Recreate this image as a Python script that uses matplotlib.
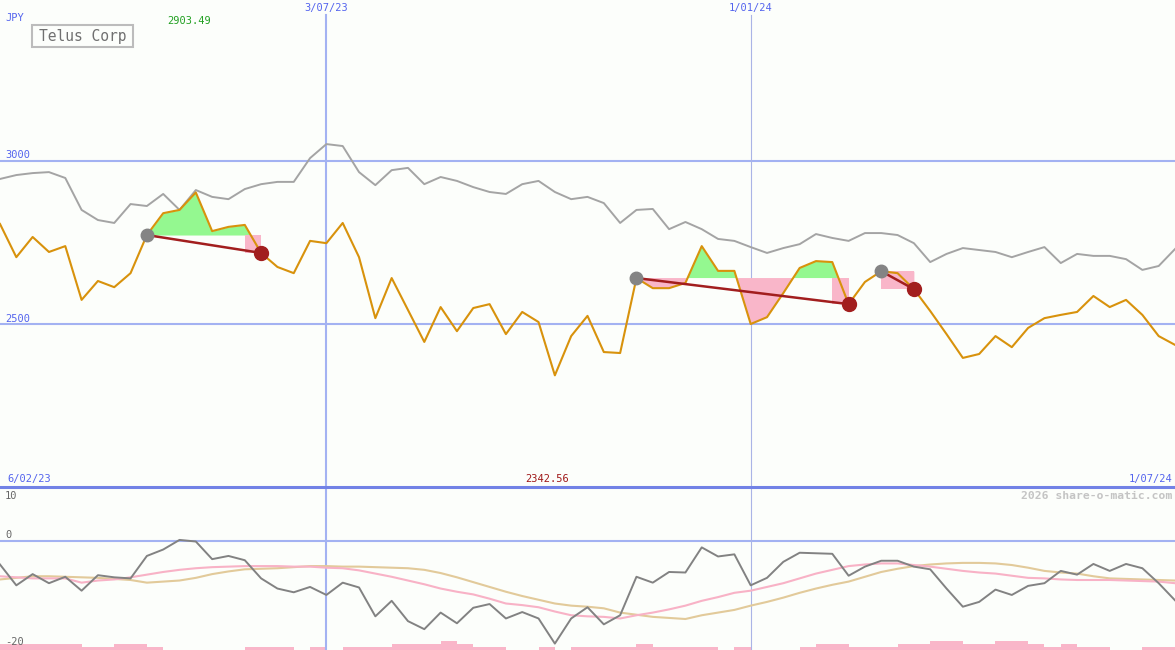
import matplotlib
matplotlib.use('Agg')
import matplotlib.pyplot as plt
from matplotlib.lines import Line2D
from matplotlib.patches import Rectangle
import numpy as np

# weekly closes, JPY
price = [2807, 2705, 2767, 2721, 2739, 2574, 2632, 2613, 2656, 2773,
         2840, 2850, 2903.49, 2785, 2798, 2804, 2718, 2675, 2656, 2755,
         2748, 2810, 2705, 2518, 2641, 2543, 2445, 2552, 2478, 2549,
         2561, 2469, 2537, 2506, 2342.56, 2463, 2525, 2414, 2411, 2641,
         2610, 2610, 2626, 2739, 2663, 2663, 2500, 2521, 2595, 2672,
         2693, 2690, 2561, 2629, 2662, 2656, 2607, 2540, 2469, 2396,
         2408, 2463, 2429, 2488, 2518, 2528, 2537, 2586, 2552, 2574,
         2528, 2463, 2436]

compare = [2945, 2957, 2963, 2966, 2948, 2850, 2819, 2810, 2868, 2862,
           2899, 2850, 2911, 2890, 2883, 2914, 2929, 2936, 2936, 3009,
           3052, 3046, 2966, 2926, 2972, 2979, 2929, 2951, 2939, 2920,
           2905, 2899, 2929, 2939, 2905, 2883, 2890, 2871, 2810, 2850,
           2853, 2791, 2813, 2791, 2761, 2755, 2736, 2718, 2733, 2745,
           2776, 2764, 2755, 2779, 2779, 2773, 2748, 2690, 2715, 2733,
           2727, 2721, 2705, 2721, 2736, 2687, 2715, 2709, 2709, 2699,
           2666, 2678, 2730]

osc = [-4.4, -8.3, -6.2, -7.9, -6.7, -9.3, -6.4, -6.8, -7.0, -2.8,
       -1.6, 0.2, -0.1, -3.4, -2.8, -3.6, -7.0, -8.9, -9.6, -8.6,
       -10.1, -7.8, -8.7, -14.1, -11.2, -15.0, -16.5, -13.4, -15.4, -12.5,
       -11.8, -14.5, -13.3, -14.5, -19.2, -14.5, -12.4, -15.6, -13.9, -6.7,
       -7.8, -5.8, -5.9, -1.2, -2.9, -2.5, -8.3, -6.9, -3.9, -2.2,
       -2.3, -2.4, -6.5, -4.8, -3.7, -3.7, -4.8, -5.3, -8.9, -12.3,
       -11.4, -9.1, -10.1, -8.4, -7.9, -5.6, -6.3, -4.3, -5.6, -4.3,
       -5.1, -7.9, -11.1]

osc_fast = [-6.6, -6.8, -7.0, -7.0, -7.0, -7.8, -7.4, -7.2, -6.8, -6.3,
            -5.8, -5.4, -5.1, -4.9, -4.8, -4.7, -4.7, -4.7, -4.8, -4.8,
            -5.0, -5.1, -5.5, -6.1, -6.7, -7.4, -8.1, -8.9, -9.5, -10.0,
            -10.8, -11.7, -12.0, -12.4, -13.2, -13.9, -14.1, -14.2, -14.5, -13.9,
            -13.4, -12.8, -12.1, -11.2, -10.5, -9.7, -9.3, -8.6, -7.9, -7.0,
            -6.1, -5.4, -4.7, -4.4, -4.2, -4.2, -4.5, -4.8, -5.2, -5.6,
            -5.9, -6.1, -6.5, -6.9, -7.0, -7.2, -7.3, -7.3, -7.3, -7.4,
            -7.5, -7.6, -7.9]

osc_slow = [-7.2, -6.9, -6.6, -6.6, -6.7, -6.8, -6.9, -7.1, -7.3, -7.8,
            -7.6, -7.4, -6.9, -6.2, -5.7, -5.3, -5.2, -5.1, -4.9, -4.7,
            -4.7, -4.8, -4.8, -4.9, -5.0, -5.1, -5.4, -6.0, -6.8, -7.7,
            -8.6, -9.5, -10.3, -11.0, -11.7, -12.1, -12.3, -12.6, -13.4, -13.8,
            -14.2, -14.4, -14.6, -13.9, -13.4, -12.9, -12.1, -11.4, -10.6, -9.7,
            -8.9, -8.2, -7.6, -6.7, -5.8, -5.2, -4.7, -4.4, -4.2, -4.1,
            -4.1, -4.2, -4.5, -5.0, -5.6, -5.9, -6.1, -6.6, -7.0, -7.1,
            -7.2, -7.3, -7.4]

volume = [2, 2, 2, 2, 2, 1, 1, 2, 2, 1,
          0, 0, 0, 0, 0, 1, 1, 1, 0, 1,
          0, 1, 1, 1, 2, 2, 2, 3, 2, 1,
          1, 0, 0, 1, 0, 1, 1, 1, 1, 2,
          1, 1, 1, 1, 0, 1, 0, 0, 0, 1,
          2, 2, 1, 1, 1, 2, 2, 3, 3, 2,
          2, 3, 3, 2, 1, 2, 1, 1, 0, 0,
          1, 1]

# (entry week, exit week)
trades = [(9, 16), (39, 52), (54, 56)]

date_ticks = [20, 46]
date_labels = ['3/07/23', '1/01/24']
first_date, last_date = '6/02/23', '1/07/24'
price_grid = [3000, 2500]
osc_labels = [10, 0, -20]

W, H = 1175, 650
bg = '#fcfefb'
blue = '#a3b2f2'
txt_blue = '#5464ee'
pink = '#f9b6c9'
mono = 'DejaVu Sans Mono'


def fxy(x, y):
    return x / W, 1 - y / H


x = np.arange(len(price))
price = np.array(price, dtype=float)

fig = plt.figure(figsize=(W / 100, H / 100), dpi=100, facecolor=bg)
ax = fig.add_axes([0, 163 / H, 1, 487 / H])
axb = fig.add_axes([0, 0, 1, 163 / H])
for a in (ax, axb):
    a.axis('off')
    a.set_xlim(0, len(price) - 1)
ax.set_ylim(2000, 3494)
axb.set_ylim(-20.4, 10.1)

# grid
for g in price_grid:
    ax.axhline(g, color=blue, lw=1.5, zorder=1)
axb.axhline(0, color=blue, lw=1.5, zorder=1)
ax.axvline(date_ticks[0], ymax=1 - 15 / 487, color=blue, lw=1.5, zorder=1)
axb.axvline(date_ticks[0], color=blue, lw=1.5, zorder=1)
ax.axvline(date_ticks[1], ymax=1 - 15 / 487, color='#aab4e6', lw=0.8, zorder=1)
axb.axvline(date_ticks[1], color='#aab4e6', lw=0.8, zorder=1)
fig.add_artist(Line2D([0, 1], [163 / H, 163 / H], transform=fig.transFigure,
                      color='#7282e6', lw=2.2))

# trade shading
for e, s in trades:
    lvl = price[e]
    seg = x[e:s + 1]
    vals = price[e:s + 1]
    ax.fill_between(seg, lvl, vals, where=vals >= lvl, interpolate=True,
                    color='#94f890', lw=0, zorder=2)
    ax.fill_between(seg, lvl, vals, where=vals <= lvl, interpolate=True,
                    color=pink, lw=0, zorder=2)
    if price[s] < lvl:
        j = max(i for i in range(e, s) if price[i] >= lvl)
        ax.add_patch(Rectangle((x[j], price[s]), x[s] - x[j], lvl - price[s],
                               color=pink, lw=0, zorder=2))

ax.plot(x, compare, color='#a4a4a4', lw=1.4, zorder=3)
ax.plot(x, price, color='#d8920c', lw=1.5, zorder=4)

for e, s in trades:
    ax.plot([x[e], x[s]], [price[e], price[s]], color='#a21e1e', lw=1.8, zorder=5)
    ax.plot(x[e], price[e], 'o', ms=9, color='#848484', zorder=6)
    ax.plot(x[s], price[s], 'o', ms=10, color='#a21e1e', zorder=6)

# oscillator panel
axv = axb.twinx()
axv.axis('off')
axv.set_ylim(0, 163 / 3)
axv.set_xlim(0, len(price) - 1)
axv.bar(np.arange(len(volume)) + 0.5, volume, width=1.0, color=pink, lw=0)
axv.set_zorder(axb.get_zorder() - 1)

axb.plot(x, osc_slow, color='#e2ca9a', lw=1.5, zorder=3)
axb.plot(x, osc_fast, color='#f8b2c6', lw=1.5, zorder=3)
axb.plot(x, osc, color='#828282', lw=1.4, zorder=4)

# labels
fs = 7.5
fig.text(*fxy(5, 18), 'JPY', color=txt_blue, family=mono, size=fs, va='center')
for g, yy in zip(price_grid, [155, 319]):
    fig.text(*fxy(5, yy), str(g), color=txt_blue, family=mono, size=fs, va='center')
for t, lab in zip(date_ticks, date_labels):
    ax.annotate(lab, (t, 1), xycoords=('data', 'axes fraction'), xytext=(0, -8),
                textcoords='offset pixels', ha='center', va='center',
                color=txt_blue, family=mono, size=fs)
fig.text(*fxy(7, 479), first_date, color=txt_blue, family=mono, size=fs, va='center')
fig.text(*fxy(1172, 479), last_date, color=txt_blue, family=mono, size=fs,
         va='center', ha='right')

hi, lo = int(np.argmax(price)), int(np.argmin(price))
ax.annotate(f'{price[hi]:.2f}', (hi, 1), xycoords=('data', 'axes fraction'),
            xytext=(-7, -21), textcoords='offset pixels', ha='center', va='center',
            color='#22a022', family=mono, size=fs)
ax.annotate(f'{price[lo]:.2f}', (lo, 0), xycoords=('data', 'axes fraction'),
            xytext=(-8, 8), textcoords='offset pixels', ha='center', va='center',
            color='#a01818', family=mono, size=fs)

fig.text(*fxy(1172, 496), '2026 share-o-matic.com', color='#c4c4c4', family=mono,
         size=8.2, va='center', ha='right', weight='bold')
for v, yy in zip(osc_labels, [496, 535, 642]):
    fig.text(*fxy(5, yy), str(v), color='#666666', family=mono, size=fs, va='center')

fig.add_artist(Rectangle(fxy(32, 47), 101 / W, 22 / H, transform=fig.transFigure,
                         fill=False, edgecolor='#bcbcbc', lw=1.5))
fig.text(*fxy(82.5, 36), 'Telus Corp', color='#707070', family=mono, size=10.5,
         va='center', ha='center')

fig.savefig('out.png', dpi=100, facecolor=bg)
